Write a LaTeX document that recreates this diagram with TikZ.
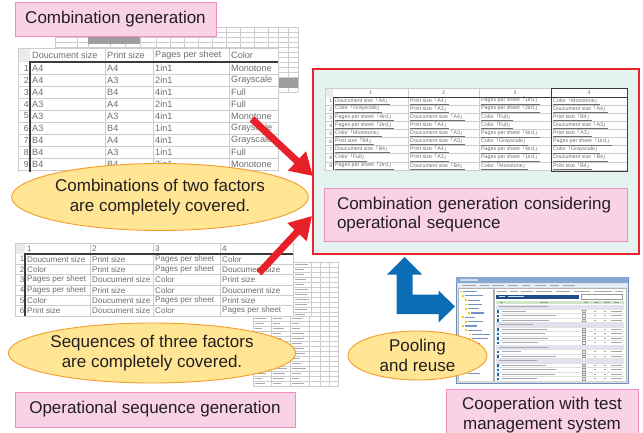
\documentclass[tikz,border=0pt]{standalone}
\usepackage{fontspec}
\setmainfont{Liberation Sans}
\newfontfamily\cjk{Noto Sans CJK JP}
\usetikzlibrary{arrows.meta,shapes.geometric}

\definecolor{labelpink}{HTML}{F9D3E5}
\definecolor{labelrim}{HTML}{EE8FBE}
\definecolor{bubblefill}{HTML}{FFE594}
\definecolor{bubblerim}{HTML}{F39C2A}
\definecolor{panelfill}{HTML}{E4F3EF}
\definecolor{panelrim}{HTML}{E8232B}
\definecolor{hot}{HTML}{E8202A}
\definecolor{flow}{HTML}{0B6DB6}
\definecolor{ink}{HTML}{231F20}
\definecolor{cellink}{HTML}{6E6E6E}
\definecolor{gridl}{HTML}{CDCDCD}
\definecolor{gridd}{HTML}{3A3A3A}
\definecolor{winframe}{HTML}{D9E4F1}
\definecolor{winrim}{HTML}{6C8EBE}
\definecolor{wintitle}{HTML}{86A8D3}
\definecolor{treeink}{HTML}{7391C6}
\definecolor{listbar}{HTML}{1F4D8B}
\definecolor{listhead}{HTML}{CFE7C6}
\definecolor{groupfill}{HTML}{E1E1EF}
\definecolor{textbar}{HTML}{A9A9B4}

\newcommand\tagfont{\fontsize{17}{19.5}\selectfont}
\newcommand\ct[2]{\underline{#1{\cjk 「}#2{\cjk 」}}}

\begin{document}
\begin{tikzpicture}[x=1pt,y=-1pt,
  tag/.style={draw=labelrim, fill=labelpink, line width=0.9pt, inner sep=0pt,
    font=\tagfont, text=ink, align=center},
  bubble/.style={ellipse, draw=bubblerim, fill=bubblefill, line width=0.9pt,
    inner sep=0pt, font=\tagfont, text=ink, align=center},
  cellA/.style={anchor=west, inner sep=0pt, text=cellink, font=\fontsize{9.1}{10}\selectfont},
  numA/.style={anchor=east, inner sep=0pt, text=cellink, font=\fontsize{8.8}{10}\selectfont},
  cellB/.style={anchor=west, inner sep=0pt, text=cellink, font=\fontsize{8.1}{9}\selectfont},
  numB/.style={anchor=east, inner sep=0pt, text=cellink, font=\fontsize{8}{9}\selectfont},
  cellC/.style={anchor=west, inner sep=0pt, text=cellink, font=\fontsize{5.3}{6}\selectfont},
  numC/.style={anchor=east, inner sep=0pt, text=cellink, font=\fontsize{5.2}{6}\selectfont},
  thin/.style={draw=gridl, line width=0.4pt},
  thick/.style={draw=gridd, line width=1.1pt},
  redarrow/.style={draw=hot, line width=7pt, -{Triangle[width=25pt,length=22pt]}},
]
\useasboundingbox (0,0) rectangle (643,433);
\clip (0,0) rectangle (643,433);
\fill[white] (0,0) rectangle (643,433);
\pgfmathsetseed{7}

% ---------- faint spreadsheet behind the pairwise table ----------
\foreach \y in {27,32,37,42,47} \draw[thin] (55,\y) -- (298,\y);
\foreach \x in {55,77,88,110,125,140,156,170,184,198,212,226,240,254,268,278,288,298}
  \draw[thin] (\x,27) -- (\x,48);
\fill[black!38] (88,36) rectangle (140,44);
\foreach \y in {52,57,...,92} \draw[thin] (278,\y) -- (298,\y);
\draw[thin] (288,48) -- (288,92);
\draw[thin] (298,48) -- (298,92);
\fill[black!38] (278,78) rectangle (298,88);

% ---------- pairwise combination table ----------
\fill[white] (18,48) rectangle (278,172);
\fill[black!8] (18,48) rectangle (30,62);
\draw[thin] (18,48) -- (278,48);
\foreach \r in {1,...,9} \draw[thin] (18,62+12*\r) -- (278,62+12*\r);
\foreach \x in {18,105,153,229,278} \draw[thin] (\x,48) -- (\x,172);
\draw[thick] (30,172) -- (30,62) -- (278,62);
\node[cellA] (ha1) at (32,55.5) {Doucument size};
\node[cellA] (ha2) at (107,55.5) {Print size};
\node[cellA] (ha3) at (155,55.5) {Pages per sheet};
\node[cellA] (ha4) at (231,55.5) {Color};
\foreach \n/\a/\b/\c/\d in {1/A4/A4/1in1/Monotone, 2/A4/A3/2in1/Grayscale,
    3/A4/B4/4in1/Full, 4/A3/A4/2in1/Full, 5/A3/A3/4in1/Monotone,
    6/A3/B4/1in1/Grayscale, 7/B4/A4/4in1/Grayscale, 8/B4/A3/1in1/Full,
    9/B4/B4/2in1/Monotone}{
  \pgfmathsetmacro\yy{68+12*(\n-1)}
  \node[numA] (ra\n) at (29,\yy) {\n};
  \node[cellA] (pa\n) at (32,\yy) {\a};
  \node[cellA] (pb\n) at (107,\yy) {\b};
  \node[cellA] (pc\n) at (155,\yy) {\c};
  \node[cellA] (pd\n) at (231,\yy) {\d};
}

% ---------- small sheets behind the sequence table ----------
\fill[white] (293,262) rectangle (338,316);
\foreach \y in {262,267,...,317} \draw[thin] (293,\y) -- (338,\y);
\foreach \x in {293,311,320,329,338} \draw[thin] (\x,262) -- (\x,316);
\foreach \y in {264.5,269.5,...,314.5}{
  \pgfmathsetmacro\w{8+6*rnd}
  \draw[textbar, line width=1.3pt] (295,\y) -- ++(\w,0);
}
\fill[white] (253,316) rectangle (338,387);
\foreach \y in {316,321,...,387} \draw[thin] (253,\y) -- (338,\y);
\foreach \x in {253,271,290,309,320,329,338} \draw[thin] (\x,316) -- (\x,387);
\foreach \y in {318.5,323.5,...,384.5}{
  \pgfmathsetmacro\wa{6+8*rnd}
  \pgfmathsetmacro\wb{6+8*rnd}
  \pgfmathsetmacro\wc{6+8*rnd}
  \draw[textbar, line width=1.3pt] (255,\y) -- ++(\wa,0);
  \draw[textbar, line width=1.3pt] (273,\y) -- ++(\wb,0);
  \draw[textbar, line width=1.3pt] (292,\y) -- ++(\wc,0);
}

% ---------- operational sequence table ----------
\fill[white] (15,243) rectangle (293,316);
\fill[black!8] (15,243) rectangle (25,254);
\draw[thin] (15,243) -- (293,243);
\foreach \r in {1,...,6} \draw[thin] (15,254+10.333*\r) -- (293,254+10.333*\r);
\foreach \x in {15,90,153,220,293} \draw[thin] (\x,243) -- (\x,316);
\draw[thick] (25,316) -- (25,254) -- (293,254);
\node[cellB] (hb1) at (27,248.5) {1};
\node[cellB] (hb2) at (92,248.5) {2};
\node[cellB] (hb3) at (155,248.5) {3};
\node[cellB] (hb4) at (222,248.5) {4};
\foreach \n/\a/\b/\c/\d in {
    1/Doucument size/Print size/Pages per sheet/Color,
    2/Color/Print size/Pages per sheet/Doucument size,
    3/Pages per sheet/Doucument size/Color/Print size,
    4/Pages per sheet/Print size/Color/Doucument size,
    5/Color/Doucument size/Pages per sheet/Print size,
    6/Print size/Doucument size/Color/Pages per sheet}{
  \pgfmathsetmacro\yy{259.2+10.333*(\n-1)}
  \node[numB] (rb\n) at (24.5,\yy) {\n};
  \node[cellB] (qa\n) at (27,\yy) {\a};
  \node[cellB] (qb\n) at (92,\yy) {\b};
  \node[cellB] (qc\n) at (155,\yy) {\c};
  \node[cellB] (qd\n) at (222,\yy) {\d};
}

% ---------- labels and bubbles of the left column ----------
\node[tag, minimum width=201pt, minimum height=34pt] (combgen) at (115.5,19) {Combination generation};
\node[bubble, minimum width=290pt, minimum height=67pt] (twofac) at (160,197)
  {Combinations of two factors\\are completely covered.};
\node[bubble, minimum width=266pt, minimum height=60pt] (threefac) at (152,353)
  {Sequences of three factors\\are completely covered.};
\node[tag, minimum width=280pt, minimum height=35pt] (opseq) at (155,409.5) {Operational sequence generation};

% ---------- combined result panel ----------
\node[draw=panelrim, fill=panelfill, line width=1.8pt, minimum width=326pt,
  minimum height=185pt, inner sep=0pt] (combo) at (476,161.5) {};
\fill[white] (325,88) rectangle (627,170);
\fill[black!8] (325,88) rectangle (333,97);
\draw[thin] (325,88) -- (627,88);
\foreach \r in {1,...,9} \draw[thin] (325,97+8.1*\r) -- (627,97+8.1*\r);
\foreach \x in {325,408,479,551,627} \draw[thin] (\x,88) -- (\x,170);
\draw[thick, line width=0.9pt] (333,170) -- (333,97) -- (551,97);
\draw[thick, line width=0.9pt] (551,88) rectangle (627,171);
\draw[thick, line width=0.9pt] (551,97) -- (627,97);
\foreach \k/\x in {1/370.5,2/443.5,3/515,4/589}
  \node[cellC, anchor=center] (hc\k) at (\x,92.5) {\k};
\foreach \n/\ca/\va/\cb/\vb/\cc/\vc/\cd/\vd in {
    1/Doucument size/A4/Print size/A4/Pages per sheet/1in1/Color/Monotone,
    2/Color/Grayscale/Print size/A3/Pages per sheet/2in1/Doucument size/A4,
    3/Pages per sheet/4in1/Doucument size/A4/Color/Full/Print size/B4,
    4/Pages per sheet/2in1/Print size/A4/Color/Full/Doucument size/A3,
    5/Color/Monotone/Doucument size/A3/Pages per sheet/4in1/Print size/A3,
    6/Print size/B4/Doucument size/A3/Color/Grayscale/Pages per sheet/1in1,
    7/Doucument size/B4/Print size/A4/Pages per sheet/4in1/Color/Grayscale,
    8/Color/Full/Print size/A3/Pages per sheet/1in1/Doucument size/B4,
    9/Pages per sheet/2in1/Doucument size/B4/Color/Monotone/Print size/B4}{
  \pgfmathsetmacro\yy{101.2+8.1*(\n-1)}
  \node[numC] (rc\n) at (332.5,\yy) {\n};
  \node[cellC] (sa\n) at (335,\yy) {\ct{\ca}{\va}};
  \node[cellC] (sb\n) at (410,\yy) {\ct{\cb}{\vb}};
  \node[cellC] (sc\n) at (481,\yy) {\ct{\cc}{\vc}};
  \node[cellC] (sd\n) at (553,\yy) {\ct{\cd}{\vd}};
}
\node[tag, minimum width=303pt, minimum height=53pt, text width=277pt, align=left]
  (combseq) at (475.5,214.5) {Combination generation considering\\operational sequence};

% ---------- red arrows into the panel ----------
\coordinate (fromtwo) at (252,119);
\coordinate (intotwo) at (313,176);
\coordinate (fromthree) at (259,273);
\coordinate (intothree) at (312,216);
\draw[redarrow] (fromtwo) -- (intotwo);
\draw[redarrow] (fromthree) -- (intothree);

% ---------- test management window ----------
\draw[fill=winframe, draw=winrim, line width=0.6pt] (456,277) rectangle (628,383);
\fill[wintitle] (456.3,277.3) rectangle (627.7,283);
\fill[white!60!wintitle] (460,279.4) rectangle (478,280.8);
\fill[white!80!wintitle] (459,284.2) rectangle (627,287);
\foreach \x/\w in {462/14,480/9,492/12,508/10,522/8,535/11,550/9,563/12}
  \fill[black!35] (\x,285) rectangle ++(\w,1.1);
\draw[fill=white, draw=black!30, line width=0.3pt] (458,288.5) rectangle (493,381);
\foreach \k/\ind/\w in {0/0/14,1/2/18,2/5/12,3/5/14,4/5/11,5/8/13,6/2/10,7/5/15,
    8/2/12,9/5/14,10/9/18,11/9/16,12/5/12,13/2/10,14/5/14,15/5/16,16/2/11,
    17/0/12,18/2/9,19/5/12}{
  \pgfmathsetmacro\yy{291.5+4.3*\k}
  \fill[yellow!60!orange] (460+\ind,\yy-0.9) rectangle ++(1.8,1.8);
  \fill[treeink] (463+\ind,\yy-0.6) rectangle ++(\w,1.2);
}
\draw[fill=white, draw=black!30, line width=0.3pt] (494,288.5) rectangle (626,381);
\foreach \x/\w in {497/10,510/8,521/12,536/16,556/14,574/16,594/18,615/8}
  \fill[black!35] (\x,290.6) rectangle ++(\w,1.1);
\fill[listbar] (496,294.5) rectangle (579,299);
\fill[white!80!listbar] (499,296.2) rectangle ++(6,1.1);
\fill[white!80!listbar] (508,296.2) rectangle ++(16,1.1);
\draw[fill=white, draw=black!40, line width=0.3pt] (581,294.5) rectangle (622,299);
\fill[listhead] (496,300.8) rectangle (624,304.4);
\foreach \x/\w in {500/3,540/8,584/4,594/5,604/6,614/5}
  \fill[black!40] (\x,302) rectangle ++(\w,1.1);
\foreach \k in {0,...,16}{
  \pgfmathsetmacro\yy{306.8+4.5*\k}
  \draw[black!12, line width=0.3pt] (496,\yy+2.25) -- (624,\yy+2.25);
}
\foreach \k in {0,4,9,12}{
  \pgfmathsetmacro\yy{306.8+4.5*\k}
  \fill[groupfill] (496,\yy-2) rectangle (624,\yy+2);
  \pgfmathsetmacro\w{30+20*rnd}
  \fill[textbar] (499,\yy-0.6) rectangle ++(\w,1.2);
}
\foreach \k in {1,2,3,5,6,7,8,10,11,13,14,15,16}{
  \pgfmathsetmacro\yy{306.8+4.5*\k}
  \pgfmathsetmacro\w{18+40*rnd}
  \fill[flow] (497,\yy-1.2) rectangle ++(2.4,2.4);
  \fill[textbar] (501.5,\yy-0.6) rectangle ++(\w,1.2);
  \draw[black!40, line width=0.3pt] (582.5,\yy-1.2) rectangle ++(2.4,2.4);
  \fill[black!35] (594,\yy-0.5) rectangle ++(2,1);
  \fill[black!35] (604,\yy-0.5) rectangle ++(2,1);
  \fill[black!35] (611,\yy-0.6) rectangle ++(11,1.2);
}
\fill[black!15] (458,381) rectangle (626,382.6);

% ---------- pooling arrow between panel and window ----------
\coordinate (poolup) at (404.5,257);
\coordinate (poolright) at (455,306.5);
\fill[flow] (poolup) -- (422,274.5) -- (412.5,274.5) -- (412.5,294.5) -- (438.5,294.5)
  -- (438.5,290.5) -- (poolright) -- (438.5,322.5) -- (438.5,314) -- (396.5,314)
  -- (396.5,274.5) -- (387,274.5) -- cycle;

\node[bubble, minimum width=139pt, minimum height=49pt] (pool) at (417.5,355.5)
  {Pooling\\and reuse};
\node[tag, minimum width=192pt, minimum height=52pt] (testmgmt) at (542,415)
  {Cooperation with test\\management system};
\end{tikzpicture}
\end{document}
